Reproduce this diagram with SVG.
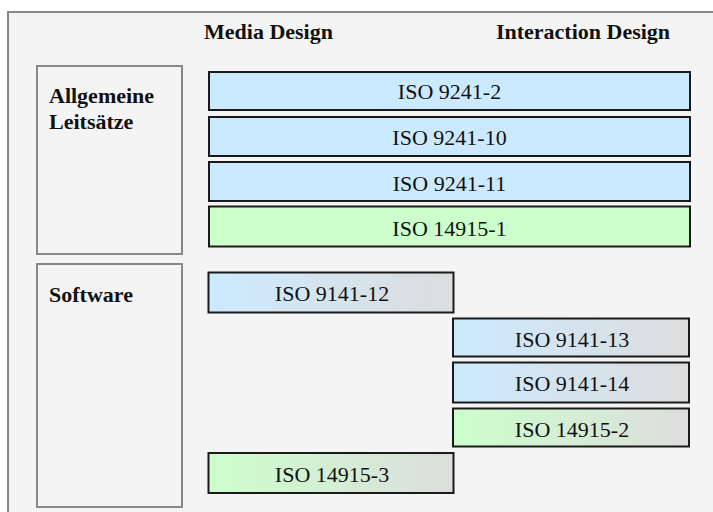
<svg xmlns="http://www.w3.org/2000/svg" width="713" height="512" viewBox="0 0 713 512">
<defs>
<linearGradient id="gBlue" x1="0" y1="0" x2="1" y2="0">
<stop offset="0" stop-color="#cceaff"/>
<stop offset="1" stop-color="#dddddd"/>
</linearGradient>
<linearGradient id="gGreen" x1="0" y1="0" x2="1" y2="0">
<stop offset="0" stop-color="#ccffcc"/>
<stop offset="1" stop-color="#dddddd"/>
</linearGradient>
</defs>
<style>
.frame{fill:#f4f4f4;stroke:#888888;stroke-width:2}
.grp{fill:#f4f4f4;stroke:#888888;stroke-width:2}
.row{stroke:#1a1a1a;stroke-width:2}
.blue{fill:#cceaff}
.green{fill:#ccffcc}
.gblue{fill:url(#gBlue)}
.ggreen{fill:url(#gGreen)}
.lbl{font-family:"Liberation Serif","Times New Roman",serif;font-size:22px;fill:#111111;text-anchor:middle}
.hdr{font-family:"Liberation Serif","Times New Roman",serif;font-size:22px;font-weight:bold;fill:#111111}
</style>
<rect width="713" height="512" fill="#ffffff"/>
<rect class="frame" x="8" y="12" width="720" height="520"/>
<g id="headers">
<text class="hdr" x="268.5" y="39" text-anchor="middle">Media Design</text>
<text class="hdr" x="583" y="39" text-anchor="middle">Interaction Design</text>
</g>
<g id="group-allgemeine">
<rect class="grp" x="37" y="66" width="145" height="188"/>
<text class="hdr" x="49" y="103">Allgemeine</text>
<text class="hdr" x="49" y="128.5">Leitsätze</text>
</g>
<g id="group-software">
<rect class="grp" x="37" y="264" width="145" height="243"/>
<text class="hdr" x="49" y="301.5">Software</text>
</g>
<g id="iso9241-2">
<rect class="row blue" x="209" y="72" width="481" height="38"/>
<text class="lbl" x="449.5" y="99">ISO 9241-2</text>
</g>
<g id="iso9241-10">
<rect class="row blue" x="209" y="117" width="481" height="39"/>
<text class="lbl" x="449.5" y="145">ISO 9241-10</text>
</g>
<g id="iso9241-11">
<rect class="row blue" x="209" y="162" width="481" height="39"/>
<text class="lbl" x="449.5" y="191">ISO 9241-11</text>
</g>
<g id="iso14915-1">
<rect class="row green" x="209" y="206.5" width="481" height="40"/>
<text class="lbl" x="449.5" y="235.5">ISO 14915-1</text>
</g>
<g id="iso9141-12">
<rect class="row gblue" x="208.5" y="272.5" width="245" height="40"/>
<text class="lbl" x="332" y="300.5">ISO 9141-12</text>
</g>
<g id="iso9141-13">
<rect class="row gblue" x="453" y="318.5" width="236" height="38"/>
<text class="lbl" x="572" y="346.5">ISO 9141-13</text>
</g>
<g id="iso9141-14">
<rect class="row gblue" x="453" y="362.5" width="236" height="40"/>
<text class="lbl" x="572" y="391">ISO 9141-14</text>
</g>
<g id="iso14915-2">
<rect class="row ggreen" x="453" y="408.5" width="236" height="38"/>
<text class="lbl" x="572" y="437">ISO 14915-2</text>
</g>
<g id="iso14915-3">
<rect class="row ggreen" x="208.5" y="453" width="245" height="40"/>
<text class="lbl" x="332" y="482">ISO 14915-3</text>
</g>
<g id="connectors"/>
</svg>
